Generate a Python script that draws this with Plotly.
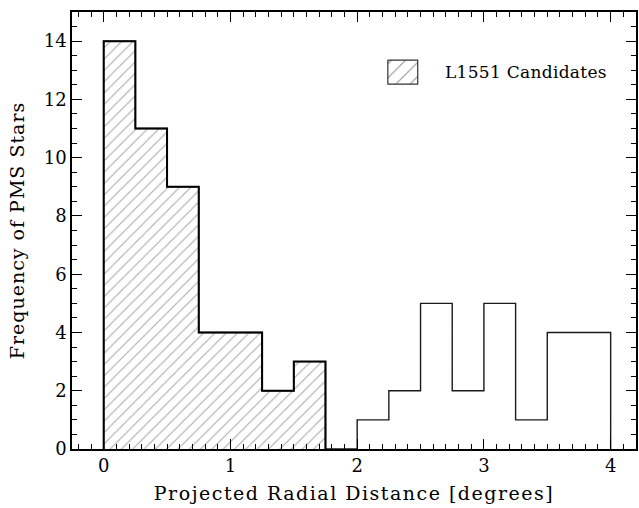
import plotly.graph_objects as go

# Data
bin_edges = [0.0, 0.25, 0.5, 0.75, 1.0, 1.25, 1.5, 1.75, 2.0, 2.25, 2.5, 2.75, 3.0, 3.25, 3.5, 3.75, 4.0]
all_counts = [14, 11, 9, 4, 4, 2, 3, 0, 1, 2, 5, 2, 5, 1, 4, 4]
l1551_counts = [14, 11, 9, 4, 4, 2, 3]
legend_label = "L1551 Candidates"
x_title = "Projected Radial Distance [degrees]"
y_title = "Frequency of PMS Stars"

FONT = "DejaVu Serif"

def spaced(text, px):
    return f'<span style="letter-spacing:{px}px">{text}</span>'

def step_xy(edges, counts):
    xs = [edges[0]] + list(edges[:len(counts)]) + [edges[len(counts)], edges[len(counts)]]
    ys = [0] + list(counts) + [counts[-1], 0]
    return xs, ys

centers = [(bin_edges[i] + bin_edges[i + 1]) / 2 for i in range(len(l1551_counts))]
widths = [bin_edges[i + 1] - bin_edges[i] for i in range(len(l1551_counts))]

fig = go.Figure()

# hatched fill for L1551 candidates
fig.add_trace(go.Bar(
    x=centers, y=l1551_counts, width=widths,
    marker=dict(color="white", line=dict(width=0),
                pattern=dict(shape="/", fgcolor="#555555", bgcolor="white", size=8, solidity=0.14)),
    showlegend=False, hoverinfo="skip",
))

# outline of total histogram
xs, ys = step_xy(bin_edges, all_counts)
fig.add_trace(go.Scatter(x=xs, y=ys, mode="lines", line=dict(color="#1a1a1a", width=1.4, shape="hv"),
                         showlegend=False, hoverinfo="skip"))

# outline of L1551 histogram
xs2, ys2 = step_xy(bin_edges, l1551_counts)
fig.add_trace(go.Scatter(x=xs2, y=ys2, mode="lines", line=dict(color="black", width=2, shape="hv"),
                         showlegend=False, hoverinfo="skip"))

# legend swatch on an overlay axis spanning the plot area
fig.add_trace(go.Scatter(
    x=[0.560, 0.613, 0.613, 0.560, 0.560], y=[0.890, 0.890, 0.835, 0.835, 0.890],
    xaxis="x2", yaxis="y2", mode="lines", fill="toself",
    fillcolor="white",
    fillpattern=dict(shape="/", fgcolor="#444444", bgcolor="white", size=10, solidity=0.12),
    line=dict(color="#333333", width=1.2), showlegend=False, hoverinfo="skip",
))

fig.add_annotation(x=0.657, y=0.862, xref="paper", yref="paper", text=spaced(legend_label, 0.3),
                   showarrow=False, xanchor="left", yanchor="middle",
                   font=dict(family=FONT, size=17, color="black"))

axis_common = dict(showgrid=False, zeroline=False, showline=True, linecolor="black", linewidth=1.5,
                   ticks="inside", tickcolor="black", tickwidth=1.2, mirror="allticks",
                   tickfont=dict(family=FONT, size=18, color="black"))

fig.update_layout(
    width=639, height=508,
    margin=dict(l=72, r=1, t=12, b=59),
    plot_bgcolor="white", paper_bgcolor="white",
    bargap=0,
    xaxis=dict(range=[-0.25, 4.2], dtick=1, tick0=0, ticklen=10,
               minor=dict(dtick=0.1, ticklen=5, ticks="inside", tickcolor="black", tickwidth=1),
               title=dict(text=spaced(x_title, 1.5), font=dict(family=FONT, size=19, color="black"), standoff=11),
               **axis_common),
    yaxis=dict(range=[0, 15], dtick=2, tick0=0, ticklen=10,
               minor=dict(dtick=0.5, ticklen=5, ticks="inside", tickcolor="black", tickwidth=1),
               title=dict(text=spaced(y_title, 1.0), font=dict(family=FONT, size=19, color="black"), standoff=14),
               **axis_common),
    xaxis2=dict(range=[0, 1], overlaying="x", visible=False),
    yaxis2=dict(range=[0, 1], overlaying="y", visible=False),
)

fig.write_html("out.html")
